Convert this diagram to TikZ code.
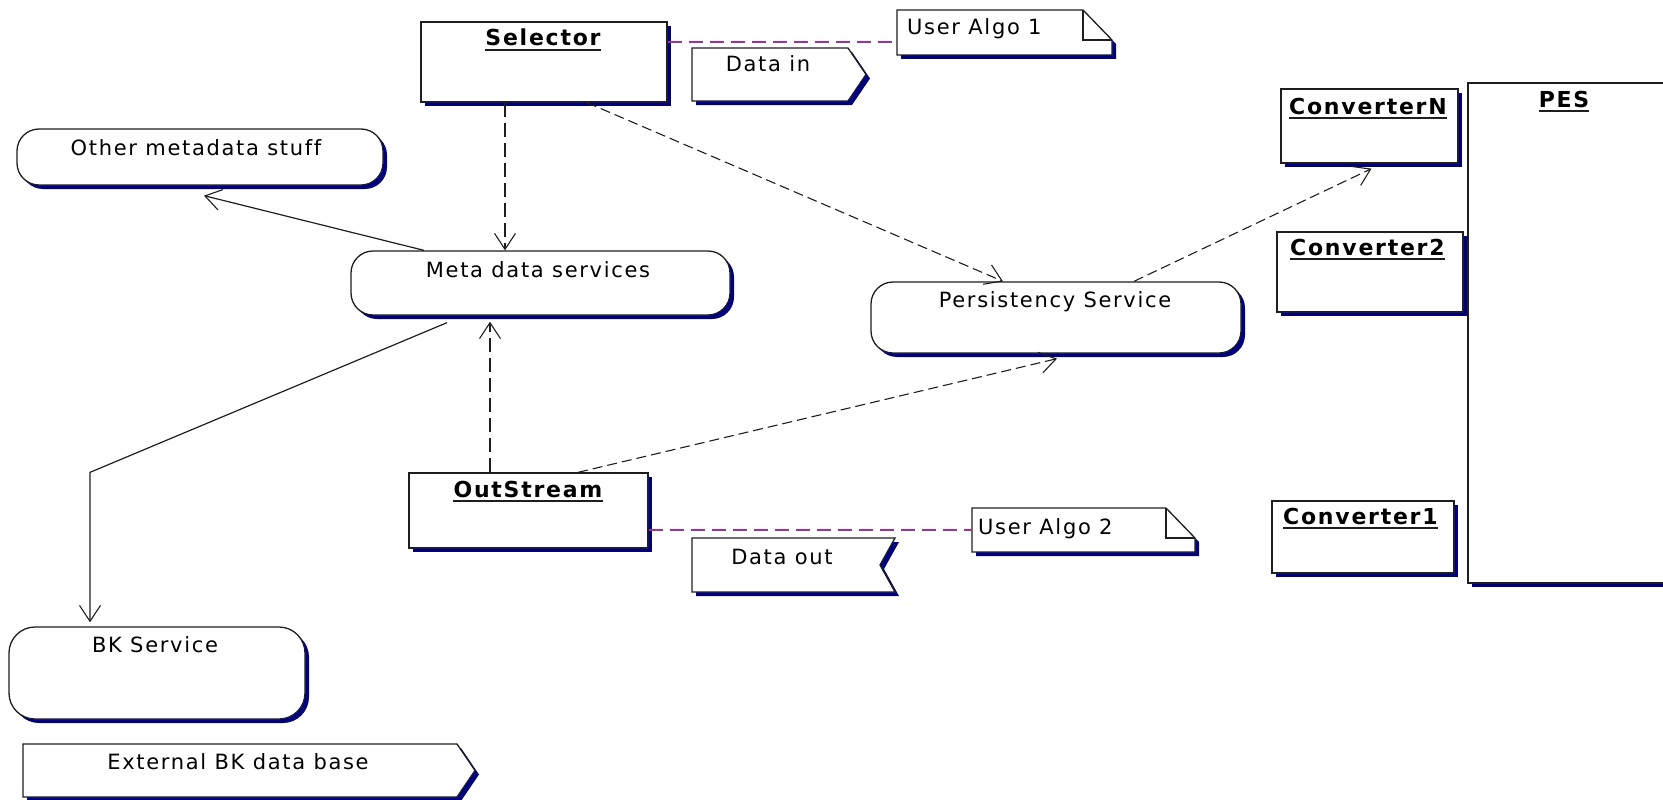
\documentclass[tikz,border=0pt]{standalone}
\usepackage{fontspec}
\setmainfont{DejaVu Sans}[LetterSpace=8,Ligatures=NoCommon]
\usetikzlibrary{arrows.meta,shadows}
\definecolor{shade}{RGB}{0,0,128}
\definecolor{linkpurple}{RGB}{155,50,160}
\definecolor{edge}{RGB}{30,30,30}
\begin{document}
\begin{tikzpicture}[x=1pt,y=-1pt,
  font=\fontsize{21}{25}\selectfont,
  shadowed/.style={drop shadow={shadow xshift=4pt,shadow yshift=-4pt,fill=shade,opacity=1}},
  box/.style={draw=edge,line width=1.3pt,fill=white,inner sep=0pt,shadowed},
  obj/.style={box,rectangle},
  activity/.style={box,rounded corners=22pt},
  frame/.style={inner sep=0pt,outer sep=0pt},
  outline/.style={draw=edge,line width=1.3pt,fill=white,line join=miter,shadowed},
  fold/.style={draw=edge,line width=1.1pt},
  title/.style={font=\fontsize{22}{26}\selectfont\bfseries,inner sep=0pt,anchor=base},
  lbl/.style={inner sep=0pt,anchor=base},
  uline/.style={draw=edge,line width=1.4pt},
  tip/.style={-{Straight Barb[length=16pt,width=21pt,line width=1.1pt]}},
  dep/.style={tip,draw=edge,line width=1.1pt,dash pattern=on 14pt off 6pt},
  depshort/.style={tip,draw=edge,line width=1.1pt,dash pattern=on 10pt off 5pt},
  assoc/.style={tip,draw=edge,line width=1.2pt},
  noteline/.style={draw=linkpurple,line width=1.8pt,dash pattern=on 14pt off 7pt}
]
\useasboundingbox (0,0) rectangle (1663,800);
\clip (0,0) rectangle (1663,800);

% ---- object boxes ----
\node[obj,minimum width=246pt,minimum height=80pt] (sel) at (544,62) {};
\node[title] (selT) at (543,46) {Selector};
\draw[uline] ([yshift=-4pt]selT.base west) -- ([yshift=-4pt]selT.base east);

\node[obj,minimum width=239pt,minimum height=75pt] (out) at (528.5,510.5) {};
\node[title] (outT) at (528,497) {OutStream};
\draw[uline] ([yshift=-4pt]outT.base west) -- ([yshift=-4pt]outT.base east);

\node[obj,minimum width=240pt,minimum height=500pt] (pes) at (1588,333) {};
\node[title] (pesT) at (1564,107) {PES};
\draw[uline] ([yshift=-4pt]pesT.base west) -- ([yshift=-4pt]pesT.base east);

\node[obj,minimum width=177pt,minimum height=74pt] (convN) at (1369.5,126) {};
\node[title,anchor=base west] (convNT) at (1289,114) {ConverterN};
\draw[uline] ([yshift=-4pt]convNT.base west) -- ([yshift=-4pt]convNT.base east);

\node[obj,minimum width=186pt,minimum height=80pt] (conv2) at (1370,272) {};
\node[title,anchor=base west] (conv2T) at (1290,255) {Converter2};
\draw[uline] ([yshift=-4pt]conv2T.base west) -- ([yshift=-4pt]conv2T.base east);

\node[obj,minimum width=182pt,minimum height=72pt] (conv1) at (1363,537) {};
\node[title,anchor=base west] (conv1T) at (1283,524) {Converter1};
\draw[uline] ([yshift=-4pt]conv1T.base west) -- ([yshift=-4pt]conv1T.base east);

% ---- activities ----
\node[activity,minimum width=366pt,minimum height=56pt] (other) at (200,157) {};
\node[lbl] (otherT) at (196,155) {Other metadata stuff};

\node[activity,minimum width=379pt,minimum height=64pt] (meta) at (540.5,283) {};
\node[lbl] (metaT) at (538,277) {Meta data services};

\node[activity,minimum width=370pt,minimum height=71pt] (pers) at (1056,317.5) {};
\node[lbl] (persT) at (1055,307) {Persistency Service};

\node[activity,minimum width=296pt,minimum height=92pt,rounded corners=26pt] (bk) at (157,673) {};
\node[lbl] (bkT) at (155,652) {BK Service};

% ---- signals ----
\node[frame,minimum width=174pt,minimum height=53pt] (din) at (779,74.5) {};
\path[outline] (din.north west) -- ([xshift=-18pt]din.north east) -- (din.east)
  -- ([xshift=-18pt]din.south east) -- (din.south west) -- cycle;
\node[lbl] (dinT) at (768,72) {Data in};

\node[frame,minimum width=203pt,minimum height=54pt] (dout) at (793.5,565) {};
\path[outline] (dout.north west) -- (dout.north east) -- ([xshift=-15pt]dout.east)
  -- (dout.south east) -- (dout.south west) -- cycle;
\node[lbl] (doutT) at (782,564) {Data out};

\node[frame,minimum width=452pt,minimum height=53pt] (ext) at (249,770.5) {};
\path[outline] (ext.north west) -- ([xshift=-18pt]ext.north east) -- (ext.east)
  -- ([xshift=-18pt]ext.south east) -- (ext.south west) -- cycle;
\node[lbl] (extT) at (238,769) {External BK data base};

% ---- notes ----
\node[frame,minimum width=215pt,minimum height=45pt] (algo1) at (1004.5,32.5) {};
\path[outline] (algo1.north west) -- ([xshift=-29pt]algo1.north east)
  -- ([yshift=-30pt]algo1.north east) -- (algo1.south east) -- (algo1.south west) -- cycle;
\draw[fold] ([xshift=-29pt]algo1.north east) |- ([yshift=-30pt]algo1.north east);
\node[lbl,anchor=base west] (algo1T) at (907,35) {User Algo 1};

\node[frame,minimum width=223pt,minimum height=44pt] (algo2) at (1083.5,530) {};
\path[outline] (algo2.north west) -- ([xshift=-29pt]algo2.north east)
  -- ([yshift=-30pt]algo2.north east) -- (algo2.south east) -- (algo2.south west) -- cycle;
\draw[fold] ([xshift=-29pt]algo2.north east) |- ([yshift=-30pt]algo2.north east);
\node[lbl,anchor=base west] (algo2T) at (978,534) {User Algo 2};

% ---- note attachments ----
\draw[noteline] ([yshift=20pt]sel.east) -- ([yshift=-9.5pt]algo1.west);
\draw[noteline] ([yshift=-19.5pt]out.east) -- (algo2.west);

% ---- dependencies ----
\draw[dep] ([xshift=-39pt]sel.south) -- ([xshift=-35.5pt]meta.north);
\draw[depshort] ([xshift=43pt]sel.south) -- ([xshift=-53pt]pers.north);
\draw[depshort] ([xshift=78pt]pers.north) -- ([xshift=2pt,yshift=-5pt]convN.south);
\draw[dep] ([xshift=-38.5pt]out.north) -- ([xshift=-50.5pt,yshift=-6pt]meta.south);
\draw[depshort] ([xshift=49.5pt]out.north) -- ([xshift=1pt,yshift=-5pt]pers.south);

% ---- associations ----
\draw[assoc] ([xshift=-116.5pt]meta.north) -- ([xshift=4pt,yshift=-10pt]other.south);
\draw[assoc] ([xshift=-93.5pt,yshift=-7pt]meta.south)
  -- ([xshift=-67pt,yshift=154pt]bk.north) -- ([xshift=-67pt,yshift=4pt]bk.north);
\end{tikzpicture}
\end{document}
